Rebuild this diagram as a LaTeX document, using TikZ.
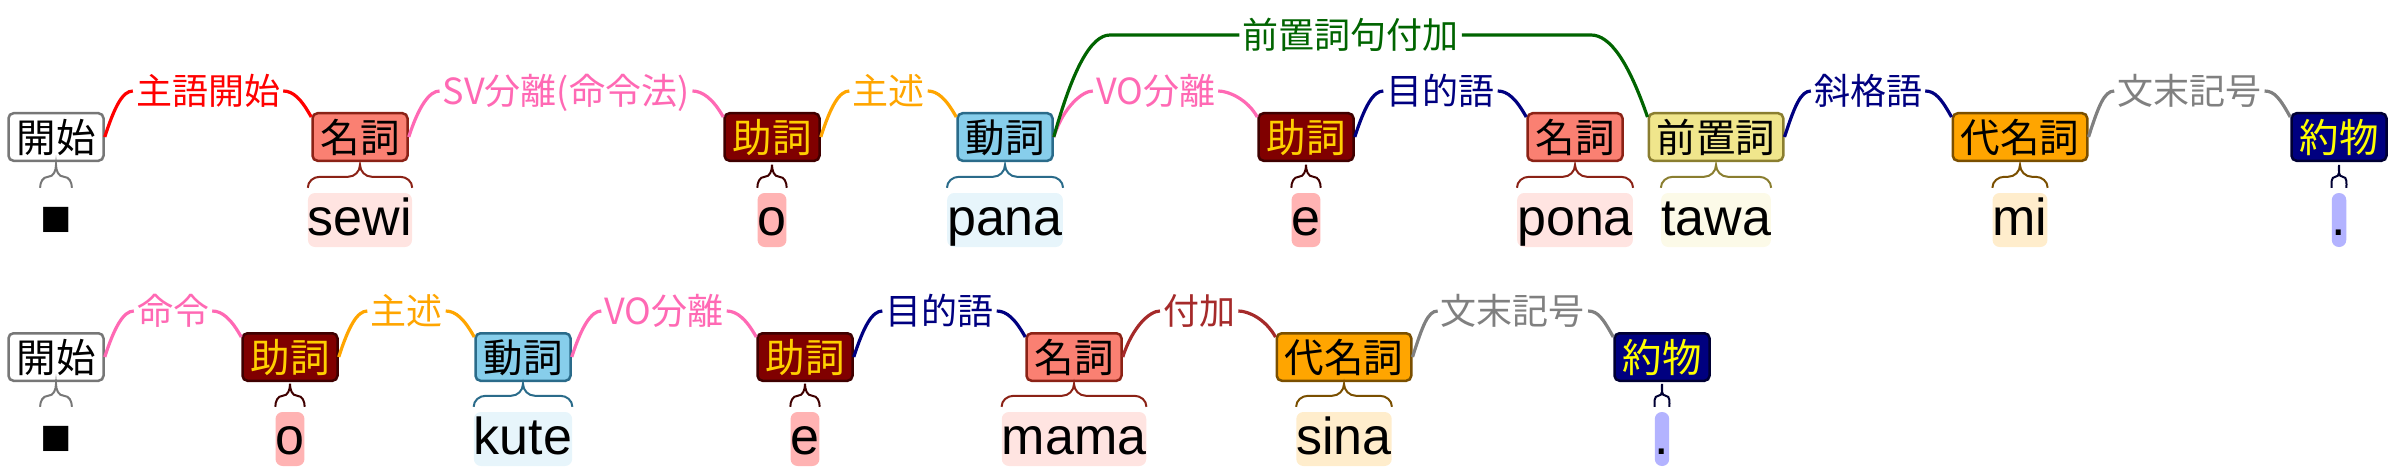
\documentclass[tikz,border=0pt]{standalone}
\usepackage{fontspec}
\setmainfont{Liberation Sans}
\newfontfamily\cjk{Noto Sans CJK JP}
\usetikzlibrary{calc}
\definecolor{startline}{HTML}{777777}
\definecolor{nounfill}{HTML}{FA8072}
\definecolor{nounline}{HTML}{8B2216}
\definecolor{nounbg}{HTML}{FFE4E1}
\definecolor{partfill}{HTML}{800000}
\definecolor{partline}{HTML}{3F0000}
\definecolor{parttext}{HTML}{FFD000}
\definecolor{partbg}{HTML}{FFB3B3}
\definecolor{verbfill}{HTML}{87CEEB}
\definecolor{verbline}{HTML}{2A6B8A}
\definecolor{verbbg}{HTML}{E7F5FB}
\definecolor{prepfill}{HTML}{F0E68C}
\definecolor{prepline}{HTML}{8A7E30}
\definecolor{prepbg}{HTML}{FCFAE8}
\definecolor{pronfill}{HTML}{FFA500}
\definecolor{pronline}{HTML}{7A4F00}
\definecolor{pronbg}{HTML}{FFEDCC}
\definecolor{punctfill}{HTML}{000080}
\definecolor{punctline}{HTML}{000033}
\definecolor{puncttext}{HTML}{FFFF00}
\definecolor{punctbg}{HTML}{B3B3FF}
\definecolor{hotpink}{HTML}{FF69B4}
\definecolor{dkorange}{HTML}{FFA500}
\definecolor{dkgreen}{HTML}{006400}
\definecolor{navyblue}{HTML}{000080}
\definecolor{midgray}{HTML}{808080}
\definecolor{brownred}{HTML}{A52A2A}

\begin{document}
\begin{tikzpicture}[x=1pt, y=1pt
                   , box/.style={draw, line width=2.5pt, rounded corners=5pt, minimum height=47.5pt,
                                 inner xsep=8pt, inner ysep=0pt, text height=30pt, text depth=0pt,
                                 font=\cjk\fontsize{39.5}{42}\selectfont}
                   , word/.style={anchor=base, inner sep=0pt, text height=42pt, text depth=12pt,
                                  rounded corners=7pt, font=\fontsize{52}{60}\selectfont}
                   , lab/.style={inner xsep=3pt, inner ysep=0pt, text height=27.4pt, text depth=0pt,
                                 font=\cjk\fontsize{36}{40}\selectfont}
                   , dep/.style={line width=3.2pt}
                   , brc/.style={line width=2pt}
                   ]

      \useasboundingbox (0,0) rectangle (2397,-468);

      % first sentence
      \node (t1) [box, fill=white, draw=startline] at (56,-137) {開始};
      \node (t2) [box, fill=nounfill, draw=nounline] at (360,-137) {名詞};
      \node (t3) [box, fill=partfill, draw=partline, text=parttext] at (772,-137) {助詞};
      \node (t4) [box, fill=verbfill, draw=verbline] at (1005,-137) {動詞};
      \node (t5) [box, fill=partfill, draw=partline, text=parttext] at (1306,-137) {助詞};
      \node (t6) [box, fill=nounfill, draw=nounline] at (1575,-137) {名詞};
      \node (t7) [box, fill=prepfill, draw=prepline] at (1716,-137) {前置詞};
      \node (t8) [box, fill=pronfill, draw=pronline] at (2020,-137) {代名詞};
      \node (t9) [box, fill=punctfill, draw=punctline, text=puncttext] at (2339,-137) {約物};

      \node (w1) [word] at (56,-235) {■};
      \node (w2) [word, fill=nounbg] at (360,-235) {sewi};
      \node (w3) [word, fill=partbg] at (772,-235) {o};
      \node (w4) [word, fill=verbbg] at (1005,-235) {pana};
      \node (w5) [word, fill=partbg] at (1306,-235) {e};
      \node (w6) [word, fill=nounbg] at (1575,-235) {pona};
      \node (w7) [word, fill=prepbg] at (1716,-235) {tawa};
      \node (w8) [word, fill=pronbg] at (2020,-235) {mi};
      \node (w9) [word, fill=punctbg] at (2339,-235) {.};

      \node (r1) [lab, text=red] at ($(t1.east)!.5!(t2.west)+(0,46)$) {主語開始};
      \node (r2) [lab, text=hotpink] at ($(t2.east)!.5!(t3.west)+(0,46)$) {SV分離(命令法)};
      \node (r3) [lab, text=dkorange] at ($(t3.east)!.5!(t4.west)+(0,46)$) {主述};
      \node (r4) [lab, text=hotpink] at ($(t4.east)!.5!(t5.west)+(0,46)$) {VO分離};
      \node (r5) [lab, text=navyblue] at ($(t5.east)!.5!(t6.west)+(0,46)$) {目的語};
      \node (r6) [lab, text=dkgreen] at ($(t4.east)!.5!(t7.west)+(0,102)$) {前置詞句付加};
      \node (r7) [lab, text=navyblue] at ($(t7.east)!.5!(t8.west)+(0,46)$) {斜格語};
      \node (r8) [lab, text=midgray] at ($(t8.east)!.5!(t9.west)+(0,46)$) {文末記号};

      \coordinate (g1) at (1110,-35);
      \coordinate (g2) at (1591,-35);

      \draw [dep, red] (t1.east) .. controls +(10,31) and +(-10,0) .. (r1.west)
                       (r1.east) .. controls +(10,0) and +(-10,18) .. ([yshift=-5pt]t2.north west);
      \draw [dep, hotpink] (t2.east) .. controls +(10,31) and +(-10,0) .. (r2.west)
                           (r2.east) .. controls +(10,0) and +(-10,18) .. ([yshift=-5pt]t3.north west);
      \draw [dep, dkorange] (t3.east) .. controls +(10,31) and +(-10,0) .. (r3.west)
                            (r3.east) .. controls +(10,0) and +(-10,18) .. ([yshift=-5pt]t4.north west);
      \draw [dep, hotpink] (t4.east) .. controls +(10,31) and +(-10,0) .. (r4.west)
                           (r4.east) .. controls +(10,0) and +(-10,18) .. ([yshift=-5pt]t5.north west);
      \draw [dep, navyblue] (t5.east) .. controls +(10,31) and +(-10,0) .. (r5.west)
                            (r5.east) .. controls +(10,0) and +(-10,18) .. ([yshift=-5pt]t6.north west);
      \draw [dep, dkgreen] (t4.east) .. controls +(19,68) and +(-19,0) .. (g1) -- (r6.west)
                           (r6.east) -- (g2) .. controls +(19,0) and +(-19,55) .. ([yshift=-5pt]t7.north west);
      \draw [dep, navyblue] (t7.east) .. controls +(10,31) and +(-10,0) .. (r7.west)
                            (r7.east) .. controls +(10,0) and +(-10,18) .. ([yshift=-5pt]t8.north west);
      \draw [dep, midgray] (t8.east) .. controls +(10,31) and +(-10,0) .. (r8.west)
                           (r8.east) .. controls +(10,0) and +(-10,18) .. ([yshift=-5pt]t9.north west);

      % second sentence
      \node (u1) [box, fill=white, draw=startline] at (56,-357) {開始};
      \node (u2) [box, fill=partfill, draw=partline, text=parttext] at (290,-357) {助詞};
      \node (u3) [box, fill=verbfill, draw=verbline] at (523,-357) {動詞};
      \node (u4) [box, fill=partfill, draw=partline, text=parttext] at (805,-357) {助詞};
      \node (u5) [box, fill=nounfill, draw=nounline] at (1074,-357) {名詞};
      \node (u6) [box, fill=pronfill, draw=pronline] at (1344,-357) {代名詞};
      \node (u7) [box, fill=punctfill, draw=punctline, text=puncttext] at (1662,-357) {約物};

      \node (v1) [word] at (56,-454) {■};
      \node (v2) [word, fill=partbg] at (290,-454) {o};
      \node (v3) [word, fill=verbbg] at (523,-454) {kute};
      \node (v4) [word, fill=partbg] at (805,-454) {e};
      \node (v5) [word, fill=nounbg] at (1074,-454) {mama};
      \node (v6) [word, fill=pronbg] at (1344,-454) {sina};
      \node (v7) [word, fill=punctbg] at (1662,-454) {.};

      \node (s1) [lab, text=hotpink] at ($(u1.east)!.5!(u2.west)+(0,46)$) {命令};
      \node (s2) [lab, text=dkorange] at ($(u2.east)!.5!(u3.west)+(0,46)$) {主述};
      \node (s3) [lab, text=hotpink] at ($(u3.east)!.5!(u4.west)+(0,46)$) {VO分離};
      \node (s4) [lab, text=navyblue] at ($(u4.east)!.5!(u5.west)+(0,46)$) {目的語};
      \node (s5) [lab, text=brownred] at ($(u5.east)!.5!(u6.west)+(0,46)$) {付加};
      \node (s6) [lab, text=midgray] at ($(u6.east)!.5!(u7.west)+(0,46)$) {文末記号};

      \draw [dep, hotpink] (u1.east) .. controls +(10,31) and +(-10,0) .. (s1.west)
                           (s1.east) .. controls +(10,0) and +(-10,18) .. ([yshift=-5pt]u2.north west);
      \draw [dep, dkorange] (u2.east) .. controls +(10,31) and +(-10,0) .. (s2.west)
                            (s2.east) .. controls +(10,0) and +(-10,18) .. ([yshift=-5pt]u3.north west);
      \draw [dep, hotpink] (u3.east) .. controls +(10,31) and +(-10,0) .. (s3.west)
                           (s3.east) .. controls +(10,0) and +(-10,18) .. ([yshift=-5pt]u4.north west);
      \draw [dep, navyblue] (u4.east) .. controls +(10,31) and +(-10,0) .. (s4.west)
                            (s4.east) .. controls +(10,0) and +(-10,18) .. ([yshift=-5pt]u5.north west);
      \draw [dep, brownred] (u5.east) .. controls +(10,31) and +(-10,0) .. (s5.west)
                            (s5.east) .. controls +(10,0) and +(-10,18) .. ([yshift=-5pt]u6.north west);
      \draw [dep, midgray] (u6.east) .. controls +(10,31) and +(-10,0) .. (s6.west)
                           (s6.east) .. controls +(10,0) and +(-10,18) .. ([yshift=-5pt]u7.north west);

      % braces from each word up to its tag
      \foreach \w/\clr in {w1/startline, w2/nounline, w3/partline, w4/verbline, w5/partline,
                           w6/nounline, w7/prepline, w8/pronline, w9/punctline,
                           v1/startline, v2/partline, v3/verbline, v4/partline, v5/nounline,
                           v6/pronline, v7/punctline} {
        \draw [brc, draw=\clr] let \p1=(\w.north west), \p2=(\w.north east),
                  \n1={min(12pt,(\x2-\x1)/4)}, \n2={(\x1+\x2)/2} in
              ({\x1},{\y1+5}) to[out=90,in=180] ({\x1+\n1},{\y1+16}) -- ({\n2-\n1},{\y1+16})
              to[out=0,in=-90] ({\n2},{\y1+28}) to[out=-90,in=180] ({\n2+\n1},{\y1+16})
              -- ({\x2-\n1},{\y1+16}) to[out=0,in=90] ({\x2},{\y1+5});
      }

  \end{tikzpicture}
\end{document}
